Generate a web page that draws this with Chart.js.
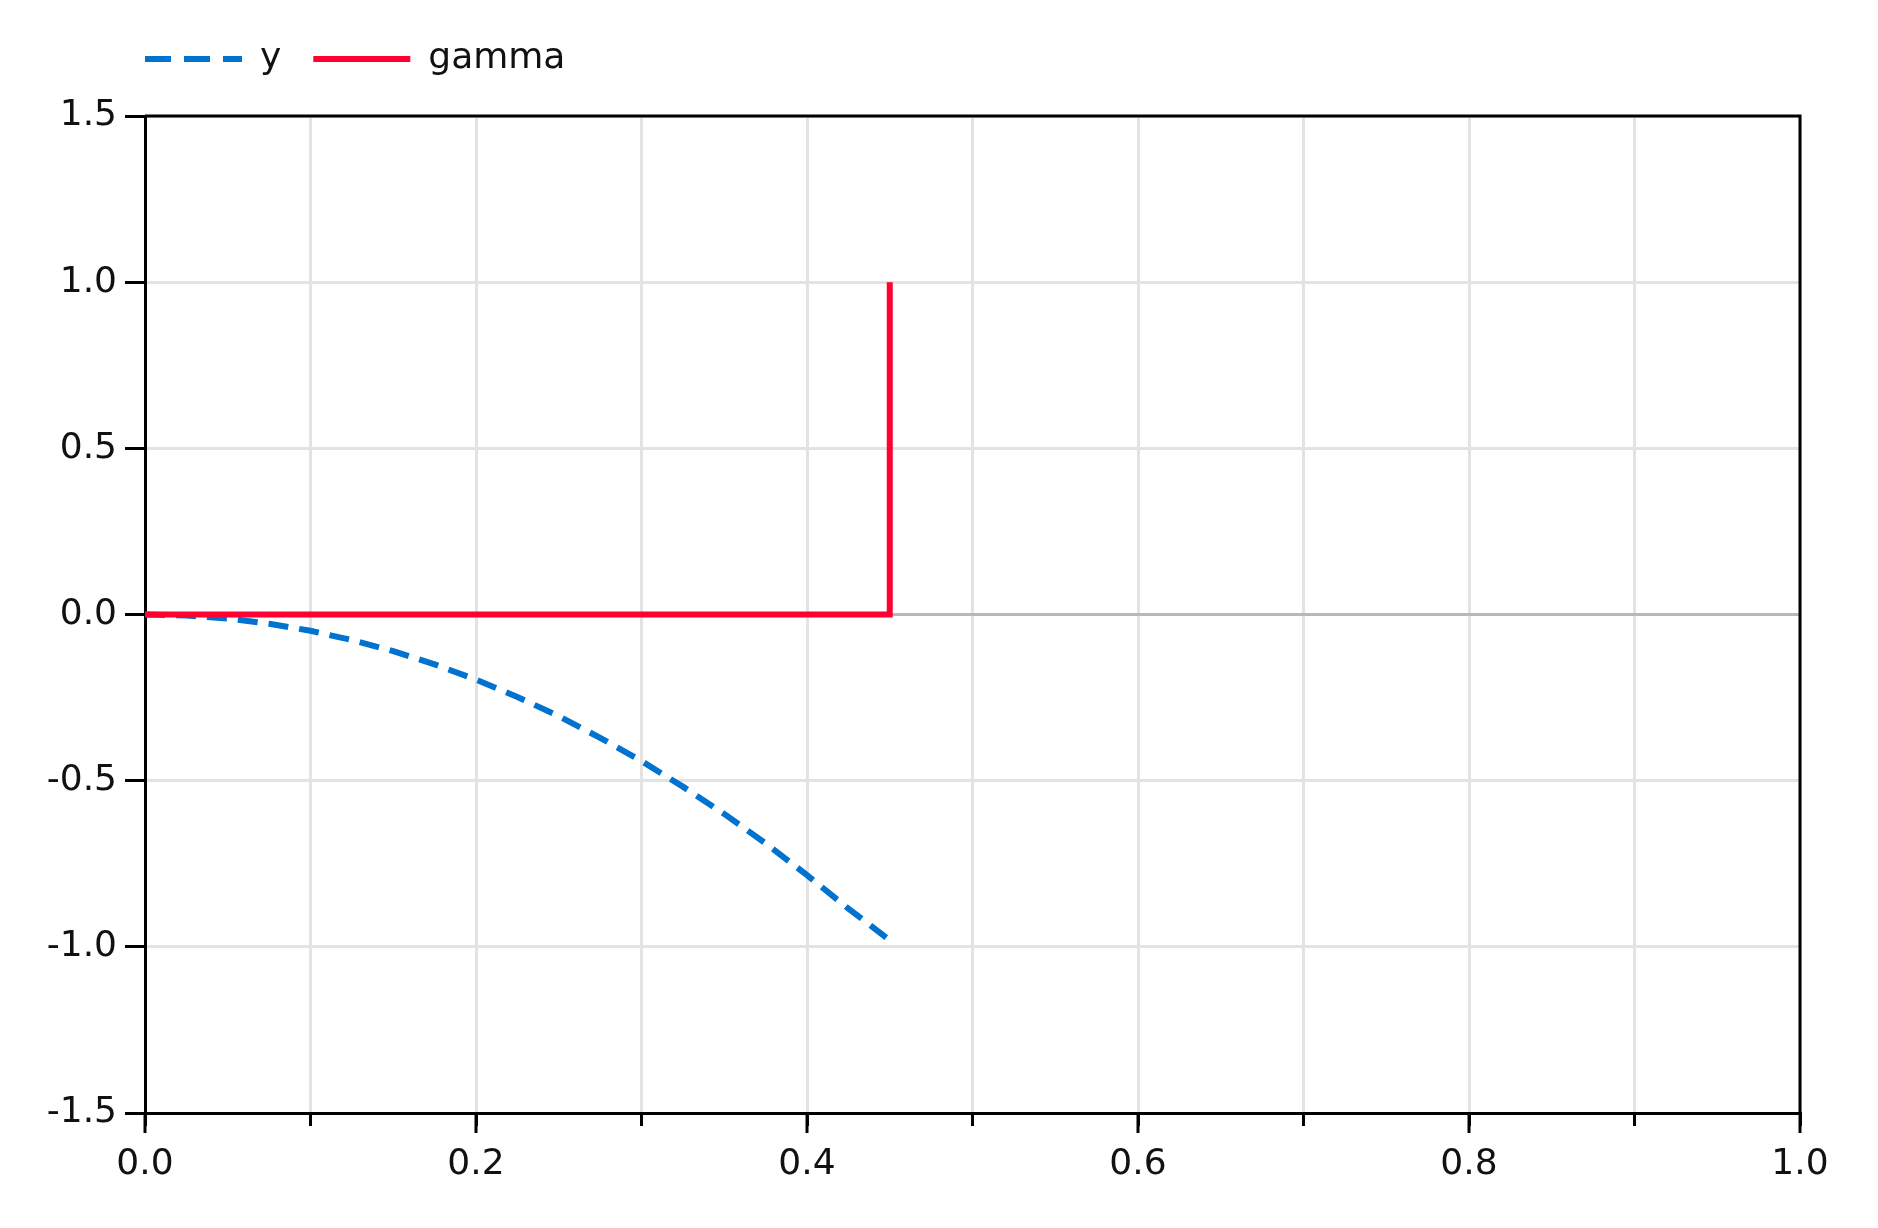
<!DOCTYPE html>
<html>
<head>
<meta charset="utf-8">
<title>y / gamma</title>
<script src="https://cdn.jsdelivr.net/npm/chart.js@4/dist/chart.umd.min.js"></script>
<style>
  body { margin: 0; background: #fff; }
  canvas { display: block; }
</style>
</head>
<body>
<canvas id="graph" width="1878" height="1228"></canvas>
<script>
// valeurs
const tY = [0, 0.025, 0.05, 0.075, 0.1, 0.125, 0.15, 0.175, 0.2, 0.225, 0.25, 0.275, 0.3, 0.325, 0.35, 0.375, 0.4, 0.425, 0.45];
const yValues = [0, -0.003, -0.012, -0.028, -0.049, -0.077, -0.110, -0.150, -0.196, -0.248, -0.306, -0.371, -0.441, -0.518, -0.600, -0.689, -0.784, -0.885, -0.98];

const tGamma = [0, 0.45, 0.45];
const gammaValues = [0, 0, 1];

const xTicks = [0, 0.1, 0.2, 0.3, 0.4, 0.5, 0.6, 0.7, 0.8, 0.9, 1.0];
const xLabels = ['0.0', '', '0.2', '', '0.4', '', '0.6', '', '0.8', '', '1.0'];
const yTicks = [-1.5, -1.0, -0.5, 0.0, 0.5, 1.0, 1.5];

const font = { family: 'DejaVu Sans', size: 36 };
const textColor = '#111';
const legendPad = 32;

// legende alignee sur la zone du graphique
const legendPlugin = {
    id: 'legendPos',
    afterLayout(chart) {
        const lg = chart.legend;
        const dx = chart.chartArea.left - legendPad - lg.left;
        lg.left += dx;
        lg.top = 9;
        lg.bottom = lg.top + lg.height;
    }
};

// cadre haut / droite + grands traits de graduation sur x
const framePlugin = {
    id: 'frame',
    afterDraw(chart) {
        const { ctx, chartArea: a } = chart;
        const xs = chart.scales.x;
        ctx.save();
        ctx.strokeStyle = '#000';
        ctx.lineWidth = 3;
        ctx.beginPath();
        ctx.moveTo(a.left, a.top);
        ctx.lineTo(a.right, a.top);
        ctx.lineTo(a.right, a.bottom);
        ctx.stroke();
        xTicks.forEach((v, i) => {
            if (!xLabels[i]) return;
            const px = xs.getPixelForValue(v);
            ctx.beginPath();
            ctx.moveTo(px, a.bottom);
            ctx.lineTo(px, a.bottom + 20);
            ctx.stroke();
        });
        ctx.restore();
    }
};

const ctx = document.getElementById('graph').getContext('2d');
new Chart(ctx, {
    type: 'line',
    data: {
        datasets: [{
            label: 'y',
            data: tY.map((t, i) => ({ x: t, y: yValues[i] })),
            borderColor: '#0072cf',
            backgroundColor: '#0072cf',
            borderWidth: 6,
            borderDash: [20, 11],
            pointRadius: 0,
            order: 1
        }, {
            label: 'gamma',
            data: tGamma.map((t, i) => ({ x: t, y: gammaValues[i] })),
            borderColor: '#ff0031',
            backgroundColor: '#ff0031',
            borderWidth: 6,
            borderJoinStyle: 'miter',
            pointRadius: 0,
            order: 0
        }]
    },
    options: {
        responsive: false,
        animation: false,
        devicePixelRatio: 1,
        layout: { padding: { left: 0, right: 78, top: 38, bottom: 0 } },
        plugins: {
            legend: {
                display: true,
                align: 'start',
                labels: {
                    usePointStyle: true,
                    pointStyle: 'line',
                    pointStyleWidth: 97,
                    padding: legendPad,
                    font,
                    color: textColor,
                    sort: (a, b) => a.datasetIndex - b.datasetIndex,
                    generateLabels: chart => {
                        const items = Chart.defaults.plugins.legend.labels.generateLabels(chart);
                        return items.map(it => {
                            const ds = chart.data.datasets[it.datasetIndex];
                            it.lineDash = ds.borderDash ? [26, 13] : [];
                            it.lineWidth = ds.borderWidth;
                            it.strokeStyle = ds.borderColor;
                            it.lineCap = 'butt';
                            return it;
                        });
                    }
                }
            },
            tooltip: { enabled: false }
        },
        scales: {
            x: {
                type: 'linear',
                min: 0,
                max: 1,
                afterBuildTicks: s => { s.ticks = xTicks.map(v => ({ value: v })); },
                afterFit: s => { s.height = 115; },
                ticks: {
                    font,
                    color: textColor,
                    padding: 17,
                    maxRotation: 0,
                    autoSkip: false,
                    callback: (v, i) => xLabels[i]
                },
                grid: {
                    color: '#e3e3e3',
                    lineWidth: 3,
                    tickLength: 13,
                    tickColor: '#000',
                    tickWidth: 3
                },
                border: { color: '#000', width: 3 }
            },
            y: {
                min: -1.5,
                max: 1.5,
                afterBuildTicks: s => { s.ticks = yTicks.map(v => ({ value: v })); },
                afterFit: s => { s.width = 145; },
                ticks: {
                    font,
                    color: textColor,
                    padding: 8,
                    callback: v => v.toFixed(1)
                },
                grid: {
                    color: c => (c.tick && c.tick.value === 0) ? '#b8b8b8' : '#e3e3e3',
                    lineWidth: 3,
                    tickLength: 20,
                    tickColor: '#000',
                    tickWidth: 3
                },
                border: { color: '#000', width: 3 }
            }
        }
    },
    plugins: [legendPlugin, framePlugin]
});
</script>
</body>
</html>
